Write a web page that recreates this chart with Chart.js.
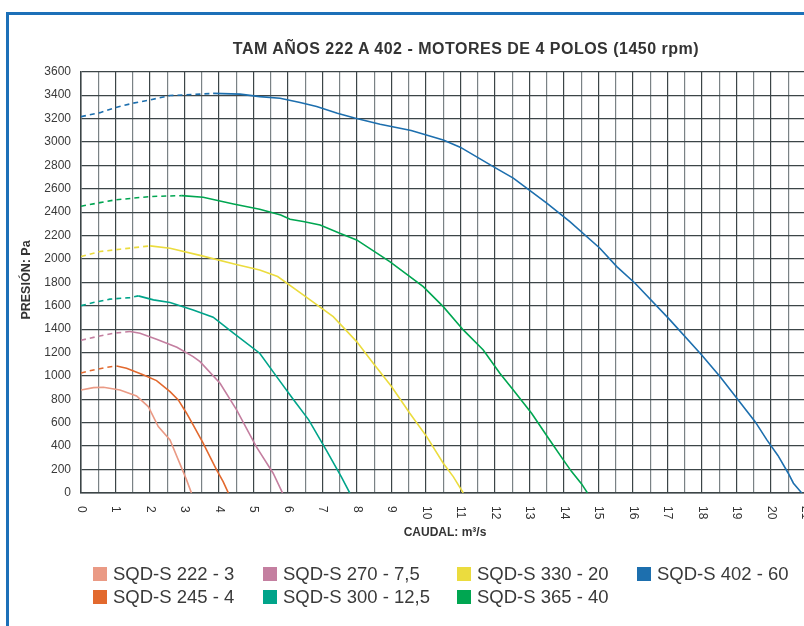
<!DOCTYPE html>
<html>
<head>
<meta charset="utf-8">
<script src="https://cdn.jsdelivr.net/npm/chart.js@4.4.1/dist/chart.umd.min.js"></script>
<style>
  html, body { margin: 0; padding: 0; }
  body { width: 804px; height: 626px; overflow: hidden; position: relative; background: #fff;
         font-family: "Liberation Sans", Arial, sans-serif; color: #333; }
  #frame { position: absolute; left: 6px; top: 12px; width: 900px; height: 700px;
           border-left: 3px solid #1c70b8; border-top: 3px solid #1c70b8; }
  #box { position: absolute; left: 0; top: 0; width: 812px; height: 626px; }
  #title { position: absolute; left: 128px; width: 676px; top: 40px; text-align: center;
           font-weight: bold; font-size: 16px; letter-spacing: 0.5px; color: #333; }
  .item { position: absolute; font-size: 18.5px; color: #3a3a3a; line-height: 18px; white-space: nowrap; }
  .item span { display: inline-block; width: 14px; height: 14px; margin-right: 6px; vertical-align: -1px; }
</style>
</head>
<body>
<div id="frame"></div>
<div id="box"><canvas id="curves"></canvas></div>
<div id="title">TAM AÑOS 222 A 402 - MOTORES DE 4 POLOS (1450 rpm)</div>
<div id="legend"></div>
<script>
// caudal (m3/s) and presion (Pa)
const q222 = [0, 0.36, 0.65, 1.13, 1.61, 1.95, 2.24, 2.58, 2.82, 3.06, 3.2];
const p222 = [880, 900, 903, 880, 829, 738, 567, 453, 282, 111, 0];

const q245 = [0, 0.36, 0.75, 1.03, 1.32, 1.8, 2.19, 2.58, 2.82, 3.06, 3.25, 3.54, 3.93, 4.12, 4.27];
const p245 = [1025, 1051, 1074, 1085, 1066, 1009, 960, 866, 795, 681, 581, 425, 197, 97, 0];

const q270 = [0, 0.46, 0.94, 1.42, 1.71, 2.19, 2.78, 3.25, 3.45, 4.03, 4.51, 5.08, 5.57, 5.84];
const p270 = [1305, 1336, 1365, 1379, 1365, 1314, 1245, 1165, 1122, 937, 709, 396, 168, 0];

const q300 = [0, 0.36, 0.84, 1.42, 1.66, 2.1, 2.58, 3.25, 3.83, 4.42, 5.18, 5.67, 6.15, 6.6, 7.13, 7.55, 7.79];
const p300 = [1600, 1627, 1656, 1669, 1684, 1650, 1627, 1564, 1502, 1365, 1194, 994, 800, 624, 355, 135, 0];

const q330 = [0, 0.55, 1.13, 2.0, 2.58, 3.45, 4.47, 5.18, 5.7, 6.44, 7.31, 7.99, 8.47, 9.0, 9.53, 10.02, 10.5, 10.79, 11.08];
const p330 = [2020, 2063, 2083, 2111, 2091, 2030, 1955, 1906, 1849, 1692, 1507, 1293, 1108, 909, 681, 481, 254, 139, 0];

const q365 = [0, 0.55, 0.99, 1.51, 2.0, 2.92, 3.54, 4.42, 5.18, 5.79, 6.06, 6.44, 6.93, 7.5, 7.99, 8.95, 9.92, 10.5, 11.08, 11.66, 12.14, 12.53, 13.06, 13.55, 13.98, 14.22, 14.51, 14.68];
const p365 = [2450, 2481, 2504, 2519, 2533, 2541, 2527, 2470, 2425, 2376, 2339, 2319, 2290, 2219, 2162, 1977, 1763, 1592, 1393, 1222, 1023, 880, 681, 467, 282, 182, 77, 0];

const q402 = [0, 0.55, 0.99, 1.51, 2.0, 2.58, 3.45, 3.83, 4.61, 5.18, 5.77, 6.35, 6.83, 7.43, 7.93, 8.67, 9.57, 10.5, 10.99, 11.95, 12.53, 13.5, 14.17, 15.04, 15.53, 16.06, 17.07, 17.99, 18.52, 19.05, 19.54, 19.88, 20.2, 20.5, 20.65, 20.89];
const p402 = [3216, 3250, 3293, 3331, 3359, 3396, 3408, 3415, 3408, 3387, 3373, 3336, 3302, 3245, 3205, 3151, 3097, 3017, 2955, 2789, 2690, 2476, 2319, 2091, 1934, 1792, 1479, 1179, 994, 795, 609, 453, 320, 168, 83, 0];

// end of the dotted (unstable) part of each curve
const dashEnds = [0, 1.03, 1.42, 1.66, 2.0, 2.92, 3.83];

const names = ['SQD-S 222 - 3', 'SQD-S 245 - 4', 'SQD-S 270 - 7,5', 'SQD-S 300 - 12,5',
               'SQD-S 330 - 20', 'SQD-S 365 - 40', 'SQD-S 402 - 60'];
const colors = ['#ea9a85', '#e2692e', '#c47fa0', '#00a48a', '#ebdc3e', '#00a651', '#1d6fae'];
const flows = [q222, q245, q270, q300, q330, q365, q402];
const pressures = [p222, p245, p270, p300, p330, p365, p402];

const xTicks = [0, 1, 2, 3, 4, 5, 6, 7, 8, 9, 10, 11, 12, 13, 14, 15, 16, 17, 18, 19, 20, 21];

// legend columns like the original sheet
const legendPos = [[93, 566], [93, 589], [263, 566], [263, 589], [457, 566], [457, 589], [637, 566]];

const datasets = names.map((name, i) => {
  const dashEnd = dashEnds[i];
  return {
    label: name,
    data: flows[i].map((q, k) => ({ x: q, y: pressures[i][k] })),
    borderColor: colors[i],
    backgroundColor: colors[i],
    borderWidth: 1.6,
    pointRadius: 0,
    showLine: true,
    tension: 0,
    segment: {
      borderDash: ctx => (ctx.p1.parsed.x <= dashEnd + 0.001 ? [5, 4] : undefined)
    }
  };
});

const axisText = {
  id: 'axisText',
  afterDraw(chart) {
    const ctx = chart.ctx;
    const x = chart.scales.x;
    ctx.save();
    ctx.fillStyle = '#333';
    ctx.font = '12px "Liberation Sans", Arial, sans-serif';
    ctx.textAlign = 'left';
    ctx.textBaseline = 'middle';
    xTicks.forEach(v => {
      ctx.save();
      ctx.translate(x.getPixelForValue(v), 506);
      ctx.rotate(Math.PI / 2);
      ctx.fillText(String(v), 0, 0);
      ctx.restore();
    });
    ctx.font = 'bold 12px "Liberation Sans", Arial, sans-serif';
    ctx.textAlign = 'center';
    ctx.fillText('CAUDAL: m³/s', 445, 533);
    ctx.translate(27, 280);
    ctx.rotate(-Math.PI / 2);
    ctx.font = 'bold 12.5px "Liberation Sans", Arial, sans-serif';
    ctx.fillText('PRESIÓN: Pa', 0, 0);
    ctx.restore();
  }
};

function buildLegend() {
  const legend = document.getElementById('legend');
  names.forEach((name, i) => {
    const el = document.createElement('div');
    el.className = 'item';
    el.style.left = legendPos[i][0] + 'px';
    el.style.top = (legendPos[i][1] - 1) + 'px';
    el.innerHTML = '<span style="background:' + colors[i] + '"></span>' + name;
    legend.appendChild(el);
  });
}

function drawChart() {
  const ctx = document.getElementById('curves').getContext('2d');
  new Chart(ctx, {
    type: 'scatter',
    data: { datasets },
    options: {
      responsive: true,
      maintainAspectRatio: false,
      animation: false,
      layout: { padding: { left: 0, right: 6.5, top: 71.7, bottom: 0 } },
      plugins: {
        legend: { display: false },
        tooltip: { enabled: false }
      },
      scales: {
        x: {
          type: 'linear',
          min: 0,
          max: 21,
          afterFit: s => { s.height = 133.1; },
          ticks: { stepSize: 0.5, display: false },
          grid: {
            drawTicks: false,
            lineWidth: 1.2,
            color: c => (c.tick && c.tick.value % 1 === 0 ? '#3c4547' : '#7a8285')
          },
          border: { color: '#3c4547', width: 1.5 }
        },
        y: {
          min: 0,
          max: 3600,
          afterFit: s => { s.width = 81; },
          ticks: {
            stepSize: 100,
            padding: 10,
            color: '#3a3a3a',
            font: { family: '"Liberation Sans", Arial, sans-serif', size: 12 },
            callback: v => (v % 200 === 0 ? v : '')
          },
          grid: {
            drawTicks: false,
            lineWidth: 1.2,
            color: c => (c.tick && c.tick.value % 200 === 0 ? '#3c4547' : '#6f777a')
          },
          border: { color: '#3c4547', width: 1.5 }
        }
      }
    },
    plugins: [axisText]
  });
}

document.addEventListener('DOMContentLoaded', () => {
  buildLegend();
  drawChart();
});
</script>
</body>
</html>
